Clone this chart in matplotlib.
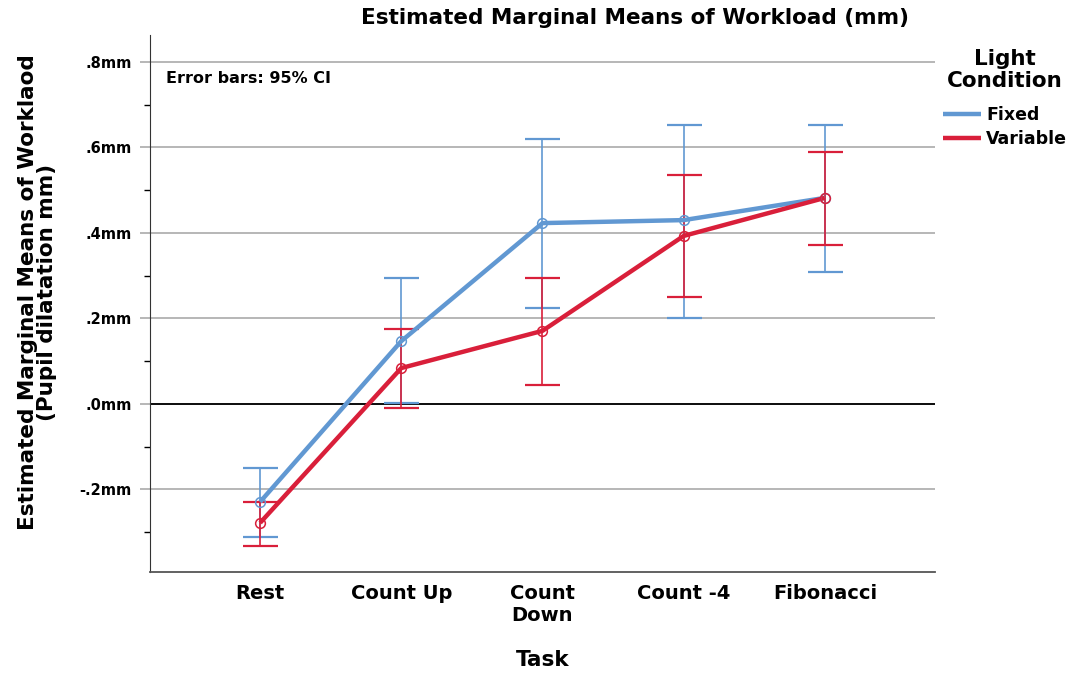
import matplotlib.pyplot as plt
import numpy as np

plt.rcParams["font.family"] = ["DejaVu Sans"]
plt.rcParams["font.weight"] = "bold"

tasks = ["Rest", "Count Up", "Count\nDown", "Count -4", "Fibonacci"]

# estimated marginal means (mm) with 95% CI bounds
fixed_mean = [-0.229, 0.147, 0.423, 0.430, 0.482]
fixed_lo = [-0.311, 0.002, 0.225, 0.201, 0.309]
fixed_hi = [-0.150, 0.295, 0.620, 0.653, 0.653]

variable_mean = [-0.278, 0.084, 0.171, 0.393, 0.482]
variable_lo = [-0.332, -0.009, 0.044, 0.250, 0.372]
variable_hi = [-0.229, 0.175, 0.295, 0.536, 0.589]

yticks = [-0.2, 0.0, 0.2, 0.4, 0.6, 0.8]
yticklabels = ["-.2mm", ".0mm", ".2mm", ".4mm", ".6mm", ".8mm"]

c_fixed = "#6198d2"
c_var = "#d91f3a"

fig = plt.figure(figsize=(10.7, 6.79), dpi=100)
ax = fig.add_axes([0.1402, 0.1576, 0.8738 - 0.1402, 0.9485 - 0.1576])

x = np.arange(len(tasks))

for mean, lo, hi, col, lab in [
    (fixed_mean, fixed_lo, fixed_hi, c_fixed, "Fixed"),
    (variable_mean, variable_lo, variable_hi, c_var, "Variable"),
]:
    mean = np.array(mean)
    err = [mean - np.array(lo), np.array(hi) - mean]
    ax.errorbar(x, mean, yerr=err, fmt="none", ecolor=col, elinewidth=1.2,
                capsize=12.6, capthick=1.6, zorder=3)
    ax.plot(x, mean, color=col, lw=3.2, label=lab, zorder=4,
            solid_capstyle="butt")
    ax.plot(x, mean, "o", ms=7, mfc="none", mec=col, mew=1.1, zorder=5)

ax.set_xlim(-0.78, 4.78)
ax.set_ylim(-0.393, 0.863)

ax.set_yticks(yticks)
ax.set_yticklabels(yticklabels, fontsize=10.5, fontweight="bold")
ax.set_yticks(np.arange(-0.3, 0.8, 0.2), minor=True)
ax.tick_params(axis="y", which="major", length=7, color="#aaaaaa", width=1.2,
               pad=6)
ax.tick_params(axis="y", which="minor", length=4, color="black", width=1)
ax.set_axisbelow(True)
ax.grid(axis="y", color="#aaaaaa", lw=1.2)
ax.axhline(0, color="black", lw=1.3, zorder=2)

ax.set_xticks(x)
ax.set_xticklabels(tasks, fontsize=14, fontweight="bold", linespacing=1.2)
ax.tick_params(axis="x", length=0, pad=9)

for s in ["top", "right"]:
    ax.spines[s].set_visible(False)
ax.spines["left"].set_color("#333333")
ax.spines["bottom"].set_color("#555555")
ax.spines["bottom"].set_linewidth(1.3)

ax.set_xlabel("Task", fontsize=15.5, fontweight="bold", labelpad=18)
ax.set_ylabel("Estimated Marginal Means of Worklaod\n(Pupil dilatation mm)",
              fontsize=15.5, fontweight="bold", linespacing=0.95)
ax.yaxis.set_label_coords(-0.118, 0.521)

fig.text(0.593, 1 - 18 / 679, "Estimated Marginal Means of Workload (mm)",
         fontsize=15.5, fontweight="bold", ha="center", va="center")

ax.text(0.02, 0.933, "Error bars: 95% CI", transform=ax.transAxes,
        fontsize=11.5, fontweight="bold", va="top")

# legend title and entries
fig.text(1005 / 1070, 1 - 70 / 679, "Light\nCondition", fontsize=15.5,
         fontweight="bold", ha="center", va="center", linespacing=1.15)
leg = ax.legend(loc="upper left", bbox_to_anchor=(943 / 1070, 1 - 106 / 679),
                bbox_transform=fig.transFigure, frameon=False,
                fontsize=12.5, handlelength=2.2, handletextpad=0.3,
                labelspacing=0.35, borderpad=0, borderaxespad=0)
for t in leg.get_texts():
    t.set_fontweight("bold")

fig.savefig("out.png", dpi=100)
